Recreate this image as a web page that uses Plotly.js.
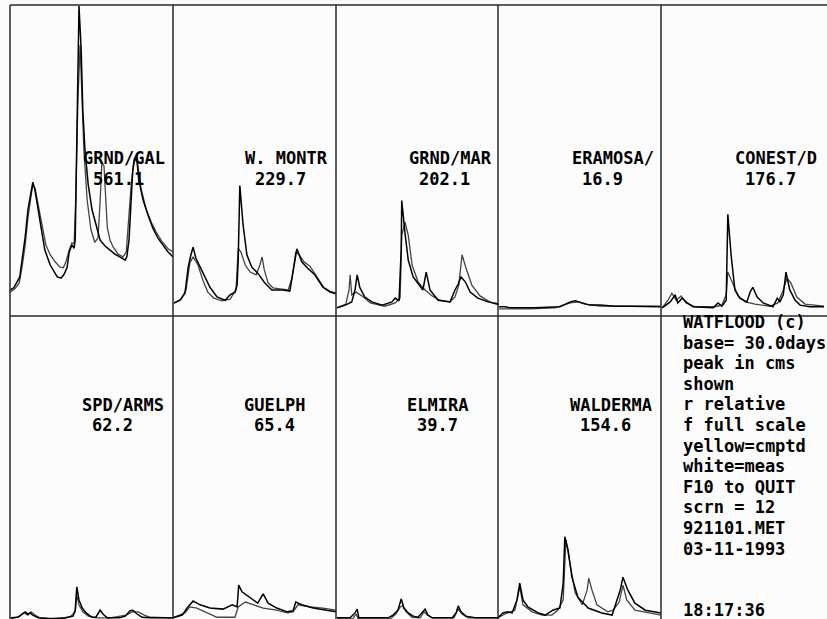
<!DOCTYPE html>
<html>
<head>
<meta charset="utf-8">
<script src="https://cdn.plot.ly/plotly-3.0.1.min.js"></script>
<style>html,body{margin:0;padding:0;background:#fcfcfc;}#chart{width:827px;height:619px;}</style>
</head>
<body>
<div id="chart"></div>
<script>
// ---- data (days since start, flow in cms) ----
const stations = ['GRND/GAL','W. MONTR','GRND/MAR','ERAMOSA/','CONEST/D','SPD/ARMS','GUELPH','ELMIRA','WALDERMA'];
const peaks = ['561.1','229.7','202.1','16.9','176.7','62.2','65.4','39.7','154.6'];
const infoLines = ['WATFLOOD (c)','base= 30.0days','peak in cms','shown','r relative','f full scale','yellow=cmptd','white=meas','F10 to QUIT','scrn = 12','921101.MET','03-11-1993','','','18:17:36'];

const galMeasT = [0,0.7,1.8,2.8,3.3,3.9,4.2,4.6,5.2,5.7,6.4,7.4,8.1,8.7,9.4,9.9,10.5,10.9,11.4,11.8,12.0,12.3,12.7,13.1,13.4,13.8,14.4,15.1,16.0,16.6,17.5,18.4,19.3,20.2,21.2,21.5,21.9,22.3,22.6,23.0,23.4,23.7,24.5,25.4,26.3,27.2,28.2,29.1,30];
const galMeasQ = [37,41,61,135,185,221,236,221,185,148,111,83,70,61,59,65,78,107,120,114,129,295,561.1,480,369,295,231,185,153,129,118,111,103,98,92,98,129,203,258,281,273,240,203,175,151,133,120,107,98];
const galCompT = [0,0.9,1.7,2.2,2.8,3.3,3.9,4.2,4.6,5.2,5.9,6.6,7.4,8.3,9.2,9.8,10.3,10.9,11.4,11.8,12.1,12.5,12.9,13.3,13.6,14.2,14.9,15.6,16.2,16.6,16.9,17.3,17.9,18.4,19.0,19.9,20.8,21.4,21.7,22.3,22.8,23.2,23.6,24.1,25.0,26.0,26.9,28.0,29.1,30];
const galCompQ = [33,39,50,78,120,170,212,231,225,194,151,120,102,89,79,78,89,111,124,122,203,388,489,388,295,203,148,125,133,203,271,266,153,129,116,103,98,107,148,231,277,286,262,225,188,162,144,126,113,107];

const monMeasT = [0.2,1.3,2.2,2.8,3.3,3.7,4.2,5.0,5.9,6.8,8.1,9.6,10.5,11.4,11.8,12.0,12.3,12.9,13.6,14.5,15.6,16.9,18.2,20.2,21.5,22.1,22.8,23.7,24.7,26.1,27.6,28.9,30];
const monMeasQ = [13,18,31,79,102,116,96,79,61,42,24,18,28,33,46,92,229.7,157,102,79,68,50,37,37,35,74,113,89,78,65,42,33,30];
const monCompT = [0.2,1.5,2.4,3.1,3.7,4.6,5.5,6.4,7.5,9.0,10.5,11.6,12.0,12.5,13.3,14.2,15.3,16.0,16.4,16.8,17.5,18.4,19.7,21.2,21.9,22.6,23.2,24.1,25.2,26.5,27.8,28.9,30];
const monCompQ = [13,20,37,87,98,83,55,33,22,17,20,37,114,107,83,70,65,83,98,74,50,41,39,37,59,107,102,89,81,61,41,35,31];

const marMeasT = [0.2,1.7,2.9,3.5,3.9,4.4,5.3,6.6,8.5,10.3,10.9,11.6,12.0,12.1,12.7,13.3,14.2,15.5,16.0,16.6,17.3,18.8,21.0,21.9,22.5,23.0,23.8,24.7,26.1,28.0,30];
const marMeasQ = [4,9,15,37,65,41,24,15,9,15,22,17,111,202.1,142,92,61,42,37,70,37,18,15,37,48,61,52,33,22,15,11];
const marCompT = [0.2,1.8,2.4,2.6,2.9,3.7,4.8,6.3,9.0,10.9,11.8,12.1,12.7,13.3,14.0,15.1,16.4,17.7,19.1,21.0,21.9,22.6,23.2,23.9,25.0,26.5,28.3,30];
const marCompQ = [4,11,37,65,28,33,26,13,7,13,22,138,162,138,83,52,37,26,18,15,24,46,102,78,46,26,15,9];

const eraMeasT = [0.2,1.3,2.2,5.0,6.8,11.4,12.3,13.3,14.2,15.5,16.9,18.8,21.5,24.3,27.1,30];
const eraMeasQ = [6,6,4,4,4,6,11,15,16.9,13,9,9,7,7,6,6];
const eraCompT = [0.2,2.6,5.9,10.5,12.0,13.3,14.7,16.0,18.8,22.4,26.1,30];
const eraCompQ = [2,2,2,4,9,13,15,11,7,7,7,7];

const conMeasT = [0.2,1.7,2.6,3.1,3.9,4.6,5.9,8.1,9.6,10.5,11.2,12.0,12.3,12.9,13.6,14.5,15.8,16.4,16.9,17.7,18.8,20.6,21.4,21.9,22.5,23.0,23.7,24.7,25.6,27.4,30];
const conMeasQ = [4,15,28,13,22,15,6,4,4,13,7,18,176.7,102,37,22,15,33,42,24,13,6,22,15,28,70,37,18,9,6,6];
const conCompT = [0.2,1.3,2.0,2.8,3.7,4.6,6.3,9.9,11.2,12.0,12.3,13.1,14.2,15.5,17.3,20.1,21.5,22.5,23.2,23.9,25.0,26.5,30];
const conCompQ = [4,18,31,18,26,13,6,6,9,28,70,52,26,15,11,7,13,37,59,50,24,11,7];

const spdMeasT = [0.2,1.5,2.2,2.8,3.3,3.7,4.2,5.2,7.4,10.1,11.6,12.0,12.3,12.7,13.3,14.0,15.1,15.8,16.6,17.1,17.9,20.2,21.2,22.1,22.6,23.4,24.3,25.8,30];
const spdMeasQ = [5,6,12,16,12,14,10,5,3,5,8,19,62.2,38,23,14,6,6,19,12,5,5,8,18,19,12,6,5,5];
const spdCompT = [0.2,1.8,2.6,3.3,3.9,4.6,5.5,9.2,11.0,12.0,12.3,12.7,13.4,14.4,15.8,18.4,21.4,22.5,23.6,24.7,25.8,30];
const spdCompQ = [3,8,14,10,16,10,5,3,6,16,47,29,16,8,5,5,10,16,16,10,6,5];

const gueMeasT = [0,1.7,2.6,3.7,5.0,6.8,9.2,10.9,11.8,12.1,12.7,14.2,15.6,16.6,17.5,19.1,21.0,22.1,22.6,23.7,25.8,28.3,30];
const gueMeasQ = [5,10,23,36,29,23,21,29,25,65.4,53,43,32,49,32,23,16,18,34,29,23,19,16];
const gueCompT = [0,2.2,3.1,4.4,6.3,8.1,11.4,12.0,13.3,14.7,16.6,19.1,21.0,22.1,23.0,25.2,27.6,30];
const gueCompQ = [5,14,25,23,14,6,6,25,34,29,23,19,14,16,29,25,23,19];

const elmMeasT = [0.2,2.6,3.5,3.9,4.2,9.6,10.5,11.4,12.0,12.5,13.3,14.2,15.1,15.8,16.4,16.9,17.7,21.4,22.1,22.5,23.0,23.9,25.6,30];
const elmMeasQ = [5,5,14,21,5,5,10,19,39.7,23,14,8,6,14,21,10,5,5,14,27,16,8,5,5];
const elmCompT = [0.2,3.1,3.7,4.1,10.0,11.0,11.8,12.3,12.9,14.0,15.5,16.2,16.8,17.7,21.7,22.5,23.2,24.3,30];
const elmCompQ = [3,3,12,3,3,12,25,27,16,6,5,16,10,5,5,21,12,5,5];

const walMeasT = [0,0.9,1.8,2.6,3.5,4.0,4.6,5.5,7.4,8.7,10.1,11.4,12.0,12.3,12.9,13.6,14.7,16.6,19.1,21.0,21.9,22.5,23.0,23.9,25.2,27.1,30];
const walMeasQ = [5,14,16,14,38,69,38,25,14,10,19,23,69,154.6,130,80,43,23,14,10,38,56,80,56,32,19,14];
const walCompT = [0,1.3,3.1,4.0,4.6,6.3,8.1,9.9,11.0,12.0,12.5,13.3,14.2,15.5,16.4,16.7,17.3,18.2,20.2,21.2,22.3,23.0,23.7,25.2,27.6,30];
const walCompQ = [5,12,19,62,29,16,10,10,19,38,149,99,51,29,56,78,56,29,16,19,34,65,38,19,14,10];

const measT = [galMeasT,monMeasT,marMeasT,eraMeasT,conMeasT,spdMeasT,gueMeasT,elmMeasT,walMeasT];
const measQ = [galMeasQ,monMeasQ,marMeasQ,eraMeasQ,conMeasQ,spdMeasQ,gueMeasQ,elmMeasQ,walMeasQ];
const compT = [galCompT,monCompT,marCompT,eraCompT,conCompT,spdCompT,gueCompT,elmCompT,walCompT];
const compQ = [galCompQ,monCompQ,marCompQ,eraCompQ,conCompQ,spdCompQ,gueCompQ,elmCompQ,walCompQ];

// ---- layout geometry (pixels) ----
const W = 827, H = 619;
const colL = [10,173,336,498,661];
const panelW = 163;
const pxPerCms = 0.5418;
const rows = [
  {top:5, bottom:316, zero:310},
  {top:316, bottom:619, zero:620.5}
];
const labelX = [[82,244,408,571,734],[81,243,406,569]];
const labelY = [[158,179],[404.5,425]];
const charW = 10.34;

const px = x => x / W;
const py = y => 1 - y / H;

const traces = [];
const layout = {
  width: W, height: H,
  margin: {l:0,r:0,t:0,b:0},
  paper_bgcolor: '#fcfcfc',
  plot_bgcolor: 'rgba(0,0,0,0)',
  showlegend: false,
  annotations: [],
  shapes: []
};

const font = {family:'"DejaVu Sans Mono", "Liberation Mono", monospace', size:17, color:'#000', weight:'bold'};

stations.forEach((name, i) => {
  const r = i < 5 ? 0 : 1;
  const c = i < 5 ? i : i - 5;
  const row = rows[r];
  const n = i + 1;
  const xa = 'xaxis' + (n === 1 ? '' : n);
  const ya = 'yaxis' + (n === 1 ? '' : n);
  const L = colL[c];
  layout[xa] = {domain:[px(L), px(L + panelW)], range:[0,30], visible:false, fixedrange:true};
  const ymin = -(row.bottom - row.zero) / pxPerCms;
  const ymax = (row.zero - row.top) / pxPerCms;
  layout[ya] = {domain:[py(row.bottom), py(row.top)], range:[ymin, ymax], visible:false, fixedrange:true};
  const xref = 'x' + (n === 1 ? '' : n);
  const yref = 'y' + (n === 1 ? '' : n);
  traces.push({x: compT[i], y: compQ[i], xaxis: xref, yaxis: yref, type:'scatter', mode:'lines',
    line:{color:'#444', width:1.3}, hoverinfo:'skip'});
  traces.push({x: measT[i], y: measQ[i], xaxis: xref, yaxis: yref, type:'scatter', mode:'lines',
    line:{color:'#000', width:1.5}, hoverinfo:'skip'});
  layout.annotations.push({xref:'paper', yref:'paper', x:px(labelX[r][c]), y:py(labelY[r][0]),
    xanchor:'left', yanchor:'middle', text:name, showarrow:false, font:font, borderpad:0});
  layout.annotations.push({xref:'paper', yref:'paper', x:px(labelX[r][c] + charW), y:py(labelY[r][1]),
    xanchor:'left', yanchor:'middle', text:peaks[i], showarrow:false, font:font, borderpad:0});
});

infoLines.forEach((t, k) => {
  if (!t) return;
  layout.annotations.push({xref:'paper', yref:'paper', x:px(682), y:py(322 + 20.6 * k),
    xanchor:'left', yanchor:'middle', text:t, showarrow:false, font:font, borderpad:0});
});

// grid frame
const lc = {color:'#2a2a2a', width:1.5};
layout.shapes.push({type:'line', xref:'paper', yref:'paper', x0:px(10), x1:1, y0:py(5), y1:py(5), line:lc});
layout.shapes.push({type:'line', xref:'paper', yref:'paper', x0:px(10), x1:1, y0:py(316), y1:py(316), line:lc});
colL.forEach(L => {
  layout.shapes.push({type:'line', xref:'paper', yref:'paper', x0:px(L), x1:px(L), y0:py(5), y1:0, line:lc});
});

Plotly.newPlot('chart', traces, layout, {staticPlot:true, displayModeBar:false});
</script>
</body>
</html>
